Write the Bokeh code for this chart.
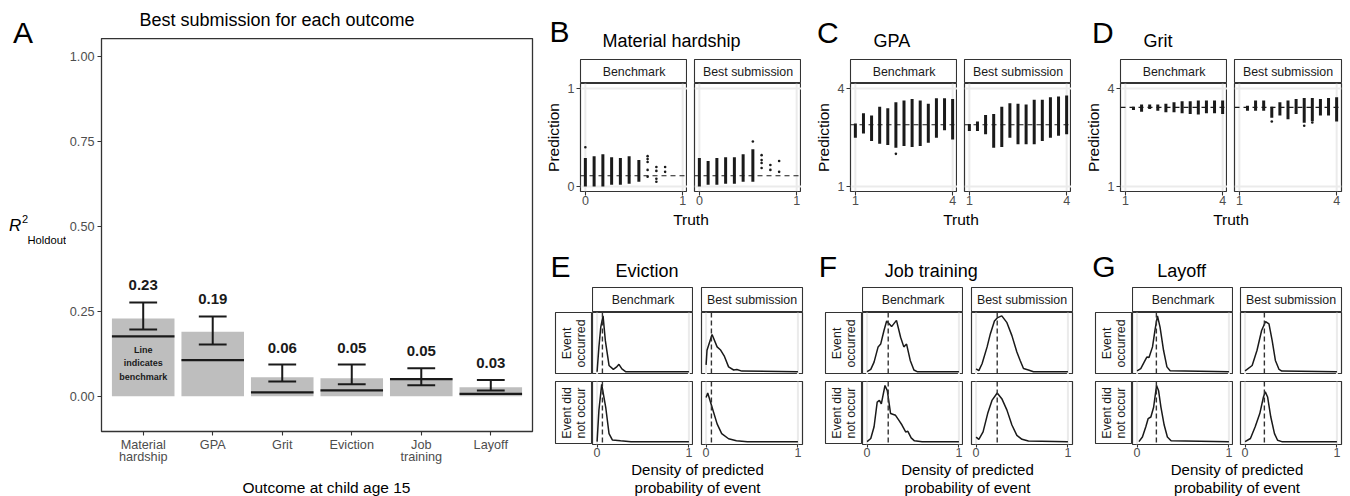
import math
from bokeh.plotting import figure
from bokeh.models import Range1d, FixedTicker, Span, Spacer, NumeralTickFormatter
from bokeh.layouts import row, column
from bokeh.core.properties import value
from bokeh.embed import file_html
from bokeh.resources import INLINE

FONT = "Liberation Sans"
DARK = "#333333"

# ---------------- Panel A data ----------------
outcomes = ["Material\nhardship", "GPA", "Grit", "Eviction", "Job\ntraining", "Layoff"]
best_r2 = [0.229, 0.190, 0.056, 0.053, 0.053, 0.026]
bench_r2 = [0.176, 0.106, 0.011, 0.017, 0.050, 0.007]
ci_lo = [0.196, 0.152, 0.043, 0.035, 0.032, 0.017]
ci_hi = [0.276, 0.235, 0.093, 0.093, 0.082, 0.048]
r2_labels = ["0.23", "0.19", "0.06", "0.05", "0.05", "0.03"]
a_yticks = [0.0, 0.25, 0.5, 0.75, 1.0]

# ---------------- Panel B (Material hardship) ----------------
mh_ticks = [0, 1]
mh_mean = 0.11
mhB_x = [0.0, 0.09, 0.18, 0.27, 0.36, 0.45, 0.55]
mhB_lo = [0.0, 0.0, 0.0, 0.02, 0.02, 0.03, 0.05]
mhB_hi = [0.29, 0.31, 0.33, 0.30, 0.29, 0.31, 0.27]
mhB_px = [0.0, 0.64, 0.64, 0.64, 0.64, 0.64, 0.73, 0.73, 0.73, 0.73, 0.82, 0.82]
mhB_py = [0.40, 0.31, 0.28, 0.25, 0.17, 0.10, 0.20, 0.16, 0.08, 0.05, 0.20, 0.15]
mhS_x = [0.0, 0.09, 0.18, 0.27, 0.36, 0.45, 0.55]
mhS_lo = [0.0, 0.02, 0.02, 0.03, 0.03, 0.05, 0.05]
mhS_hi = [0.29, 0.26, 0.29, 0.30, 0.30, 0.33, 0.38]
mhS_px = [0.55, 0.64, 0.64, 0.64, 0.64, 0.73, 0.73, 0.82, 0.82]
mhS_py = [0.46, 0.32, 0.27, 0.24, 0.19, 0.22, 0.17, 0.26, 0.15]

# ---------------- Panel C (GPA) ----------------
gpa_ticks = [1, 4]
gpa_mean = 2.89
gpa_truth = [1.0, 1.25, 1.5, 1.75, 2.0, 2.25, 2.5, 2.75, 3.0, 3.25, 3.5, 3.75, 4.0]
gpaB_lo = [2.49, 2.62, 2.39, 2.31, 2.27, 2.19, 2.24, 2.21, 2.24, 2.34, 2.49, 2.72, 2.44]
gpaB_hi = [2.93, 3.24, 3.17, 3.44, 3.39, 3.58, 3.63, 3.68, 3.63, 3.53, 3.70, 3.70, 3.68]
gpaB_px = [2.25]
gpaB_py = [2.00]
gpaS_lo = [2.70, 2.70, 2.60, 2.19, 2.21, 2.49, 2.29, 2.29, 2.29, 2.39, 2.49, 2.55, 2.60]
gpaS_hi = [2.91, 2.99, 3.19, 3.22, 3.44, 3.55, 3.53, 3.51, 3.65, 3.65, 3.73, 3.75, 3.78]
gpaS_px = []
gpaS_py = []

# ---------------- Panel D (Grit) ----------------
grit_ticks = [1, 4]
grit_mean = 3.42
grit_truth = [1.25, 1.5, 1.75, 2.0, 2.25, 2.5, 2.75, 3.0, 3.25, 3.5, 3.75, 4.0]
gritB_lo = [3.34, 3.29, 3.37, 3.32, 3.27, 3.27, 3.24, 3.22, 3.20, 3.24, 3.24, 3.22]
gritB_hi = [3.44, 3.51, 3.51, 3.51, 3.53, 3.58, 3.61, 3.61, 3.63, 3.63, 3.63, 3.63]
gritS_lo = [3.32, 3.32, 3.32, 3.10, 3.17, 3.06, 3.22, 2.95, 3.00, 3.17, 3.17, 2.99]
gritS_hi = [3.47, 3.63, 3.63, 3.44, 3.58, 3.63, 3.68, 3.71, 3.71, 3.68, 3.71, 3.73]
gritS_px = [2.0, 3.0, 3.25]
gritS_py = [2.99, 2.86, 2.96]

# ---------------- Density panels ----------------
evict_rate = 0.058
evB_occ_x = [0.0, 0.02, 0.04, 0.065, 0.09, 0.13, 0.177, 0.21, 0.238, 0.27, 0.31, 0.5, 1.0]
evB_occ_y = [0.0, 0.44, 0.79, 0.99, 0.55, 0.11, 0.04, 0.08, 0.13, 0.05, 0.0, 0.0, 0.0]
evS_occ_x = [0.0, 0.01, 0.065, 0.12, 0.155, 0.2, 0.245, 0.3, 0.335, 0.39, 1.0]
evS_occ_y = [0.12, 0.38, 0.66, 0.44, 0.39, 0.27, 0.085, 0.03, 0.04, 0.01, 0.0]
evB_not_x = [0.0, 0.02, 0.05, 0.094, 0.13, 0.166, 0.256, 0.37, 1.0]
evB_not_y = [0.0, 0.55, 1.0, 0.6, 0.14, 0.03, 0.015, 0.0, 0.0]
evS_not_x = [0.0, 0.018, 0.065, 0.12, 0.17, 0.245, 0.33, 0.45, 1.0]
evS_not_y = [0.77, 0.85, 0.6, 0.31, 0.14, 0.05, 0.015, 0.0, 0.0]

job_rate = 0.23
jbB_occ_x = [0.0, 0.04, 0.076, 0.12, 0.148, 0.184, 0.213, 0.267, 0.32, 0.365, 0.40, 0.43, 0.47, 0.51, 0.545, 1.0]
jbB_occ_y = [0.0, 0.04, 0.17, 0.44, 0.49, 0.73, 0.90, 0.80, 0.91, 0.61, 0.44, 0.49, 0.2, 0.03, 0.0, 0.0]
jbS_occ_x = [0.0, 0.03, 0.065, 0.12, 0.155, 0.2, 0.235, 0.28, 0.336, 0.39, 0.444, 0.48, 0.516, 0.57, 0.625, 1.0]
jbS_occ_y = [0.05, 0.02, 0.14, 0.44, 0.67, 0.9, 0.96, 0.99, 0.87, 0.64, 0.35, 0.2, 0.055, 0.03, 0.0, 0.0]
jbB_not_x = [0.0, 0.04, 0.076, 0.11, 0.134, 0.155, 0.195, 0.22, 0.256, 0.31, 0.347, 0.38, 0.42, 0.444, 0.48, 0.516, 0.6, 1.0]
jbB_not_y = [0.0, 0.055, 0.26, 0.69, 0.72, 0.66, 0.98, 0.89, 0.49, 0.46, 0.37, 0.29, 0.17, 0.18, 0.066, 0.014, 0.0, 0.0]
jbS_not_x = [0.0, 0.03, 0.076, 0.126, 0.173, 0.23, 0.28, 0.336, 0.39, 0.444, 0.5, 0.57, 1.0]
jbS_not_y = [0.08, 0.04, 0.17, 0.49, 0.72, 0.85, 0.75, 0.55, 0.29, 0.11, 0.04, 0.01, 0.0]

layoff_rate = 0.21
lyB_occ_x = [0.0, 0.04, 0.077, 0.106, 0.13, 0.168, 0.197, 0.222, 0.25, 0.288, 0.325, 0.36, 1.0]
lyB_occ_y = [0.015, 0.055, 0.17, 0.26, 0.25, 0.44, 0.76, 0.99, 0.79, 0.38, 0.085, 0.015, 0.0]
lyS_occ_x = [0.0, 0.077, 0.13, 0.18, 0.223, 0.26, 0.295, 0.33, 0.37, 0.4, 1.0]
lyS_occ_y = [0.015, 0.11, 0.38, 0.73, 0.89, 0.85, 0.55, 0.2, 0.04, 0.01, 0.0]
lyB_not_x = [0.02, 0.058, 0.095, 0.12, 0.15, 0.18, 0.212, 0.234, 0.26, 0.295, 0.33, 0.37, 1.0]
lyB_not_y = [0.0, 0.08, 0.26, 0.4, 0.43, 0.6, 0.98, 0.89, 0.6, 0.29, 0.08, 0.015, 0.0]
lyS_not_x = [0.0, 0.058, 0.11, 0.16, 0.2, 0.22, 0.245, 0.28, 0.32, 0.354, 0.4, 1.0]
lyS_not_y = [0.0, 0.055, 0.26, 0.49, 0.78, 0.87, 0.78, 0.43, 0.14, 0.025, 0.0, 0.0]

prob_ticks = [0, 1]
facet_names = ["Benchmark", "Best submission"]
row_names = ["Event\noccurred", "Event did\nnot occur"]


# ---------------- helpers ----------------
def base_fig(w, h, xr, yr, left=0, right=0, top=0, bottom=0, xloc=None, yloc=None):
    p = figure(width=w, height=h, x_range=Range1d(*xr), y_range=Range1d(*yr),
               min_border=0, min_border_left=left, min_border_right=right,
               min_border_top=top, min_border_bottom=bottom,
               x_axis_location=xloc, y_axis_location=yloc, title=None,
               toolbar_location=None, tools="", output_backend="svg")
    p.grid.visible = False
    p.background_fill_color = "white"
    p.border_fill_color = "white"
    return p


def style_axis(ax, ticks, standoff=0, tick_out=4, size="12.5px"):
    ax.ticker = FixedTicker(ticks=ticks)
    ax.axis_line_color = None
    ax.major_tick_line_color = DARK
    ax.major_tick_line_width = 1.1
    ax.major_tick_out = tick_out
    ax.major_tick_in = 0
    ax.minor_tick_line_color = None
    ax.major_label_text_font = FONT
    ax.major_label_text_font_size = size
    ax.major_label_text_color = "#4d4d4d"
    ax.major_label_standoff = standoff


def blank(w, h):
    # text-only canvas: data units equal pixels, y measured from the top
    p = base_fig(w, h, (0, w), (h, 0))
    p.outline_line_color = None
    return p


def put_text(p, x, y_base, txt, size_px, align="left", style="normal", color="black"):
    # y_base is the wanted alphabetic baseline; text is anchored at its middle
    p.text(x=[x], y=[y_base - 0.36 * size_px], text=[txt], text_font=value(FONT),
           text_font_size="%.1fpx" % size_px, text_align=align, text_baseline="middle",
           text_font_style=style, text_color=color)


def strip(left, fw, right, h, txt, vertical=False):
    p = base_fig(left + fw + right, h, (0, 1), (0, 1), left=left, right=right)
    p.outline_line_color = DARK
    p.outline_line_width = 1.1
    p.text(x=[0.5], y=[0.5], text=[txt], angle=(math.pi / 2 if vertical else 0),
           text_align="center", text_baseline="middle", text_font=value(FONT),
           text_font_size="12.4px", text_color="#1a1a1a", text_line_height=1.0)
    return p


# ---------------- Panel A ----------------
AX = (-0.6, 5.6)
AY = (-0.1039, 1.053)
figA = base_fig(479, 431, AX, AY, left=34, right=13, top=0, bottom=38, xloc="below", yloc="left")
figA.outline_line_color = DARK
figA.outline_line_width = 1.3
xi = list(range(len(outcomes)))
figA.vbar(x=xi, top=best_r2, bottom=0, width=0.9, fill_color="#bebebe", line_color=None)
figA.segment(x0=[i - 0.45 for i in xi], x1=[i + 0.45 for i in xi], y0=bench_r2, y1=bench_r2,
             line_color="#1a1a1a", line_width=2.2)
figA.segment(x0=xi, x1=xi, y0=ci_lo, y1=ci_hi, line_color="#1a1a1a", line_width=2)
figA.segment(x0=[i - 0.2 for i in xi], x1=[i + 0.2 for i in xi], y0=ci_lo, y1=ci_lo,
             line_color="#1a1a1a", line_width=2)
figA.segment(x0=[i - 0.2 for i in xi], x1=[i + 0.2 for i in xi], y0=ci_hi, y1=ci_hi,
             line_color="#1a1a1a", line_width=2)
figA.text(x=xi, y=[h + 0.05 for h in ci_hi], text=r2_labels, text_font=value(FONT),
          text_font_size="15px", text_font_style="bold", text_align="center",
          text_baseline="middle", text_color="#1a1a1a")
figA.text(x=[xi[0]], y=[bench_r2[0] / 2 + 0.009], text=["Line\nindicates\nbenchmark"],
          text_font=value(FONT), text_font_size="9px", text_font_style="bold",
          text_align="center", text_baseline="middle", text_line_height=1.36, text_color="#1a1a1a")
style_axis(figA.xaxis[0], xi, standoff=2, tick_out=4, size="12.7px")
figA.xaxis[0].major_label_overrides = {i: n for i, n in enumerate(outcomes)}
figA.xaxis[0].major_label_text_line_height = 0.9
style_axis(figA.yaxis[0], a_yticks, standoff=3, tick_out=4, size="12.7px")
figA.yaxis[0].formatter = NumeralTickFormatter(format="0.00")

a_left = blank(66, 496)
put_text(a_left, 12.5, 42.7, "A", 30)
put_text(a_left, 8.5, 231.5, "R", 17, style="italic")
put_text(a_left, 21.5, 222, "2", 11)
put_text(a_left, 27, 243.5, "Holdout", 11.2)
a_title = blank(479, 38)
put_text(a_title, 195, 26, "Best submission for each outcome", 18, align="center")
a_xt = blank(479, 27)
put_text(a_xt, 250, 23.5, "Outcome at child age 15", 15.5, align="center")
groupA = row(a_left, column(a_title, figA, a_xt))


# ---------------- scatter groups (B, C, D) ----------------
def scatter_panel(left, right, xr, yr, ticks, show_y, cx, lo, hi, px, py, mean):
    p = base_fig(left + 107 + right, 128, xr, yr, left=left, right=right, bottom=20,
                 xloc="below", yloc=("left" if show_y else None))
    p.outline_line_color = DARK
    p.outline_line_width = 1.2
    for t in ticks:
        p.add_layout(Span(location=t, dimension="height", line_color="#ebebeb", line_width=2, level="underlay"))
        p.add_layout(Span(location=t, dimension="width", line_color="#ebebeb", line_width=2, level="underlay"))
    p.segment(x0=cx, x1=cx, y0=lo, y1=hi, line_color="#1a1a1a", line_width=3)
    if px:
        p.scatter(x=px, y=py, size=2.6, fill_color="#1a1a1a", line_color=None)
    p.add_layout(Span(location=mean, dimension="width", line_color="#1a1a1a", line_width=1.1, line_dash="5 4"))
    style_axis(p.xaxis[0], ticks, standoff=0, tick_out=4)
    if show_y:
        style_axis(p.yaxis[0], ticks, standoff=2, tick_out=4)
    return p


def scatter_group(letter, title, letter_x, letter_y, title_x, title_y, pred_w, right2, xr, yr, ticks,
                  cxB, loB, hiB, pxB, pyB, cxS, loS, hiS, pxS, pyS, mean):
    w1 = 19 + 107
    w2 = 7 + 107 + right2
    total = pred_w + w1 + w2
    tf = blank(total, 59)
    put_text(tf, letter_x, letter_y, letter, 30)
    put_text(tf, title_x, title_y, title, 18)
    pc = blank(pred_w, 108)
    pc.text(x=[pred_w - 8], y=[54], text=["Prediction"], angle=math.pi / 2, text_font=value(FONT),
            text_font_size="15.5px", text_align="center", text_baseline="middle", text_color="black")
    pred_col = column(Spacer(width=pred_w, height=24), pc, Spacer(width=pred_w, height=20))
    s1 = strip(19, 107, 0, 24, facet_names[0])
    s2 = strip(7, 107, right2, 24, facet_names[1])
    p1 = scatter_panel(19, 0, xr, yr, ticks, True, cxB, loB, hiB, pxB, pyB, mean)
    p2 = scatter_panel(7, right2, xr, yr, ticks, False, cxS, loS, hiS, pxS, pyS, mean)
    xf = blank(total, 39)
    put_text(xf, (pred_w + 19 + total - right2) / 2, 13.5, "Truth", 15.5, align="center")
    return column(tf, row(pred_col, column(s1, p1), column(s2, p2)), xf)


gB = scatter_group("B", "Material hardship", 4, 41.7, 57, 47.3, 16, 0, (-0.05, 1.05), (-0.05, 1.05),
                   mh_ticks, mhB_x, mhB_lo, mhB_hi, mhB_px, mhB_py,
                   mhS_x, mhS_lo, mhS_hi, mhS_px, mhS_py, mh_mean)
gC = scatter_group("C", "GPA", 15.5, 42.5, 72, 46.7, 30, 0, (0.85, 4.15), (0.85, 4.15), gpa_ticks,
                   gpa_truth, gpaB_lo, gpaB_hi, gpaB_px, gpaB_py, gpa_truth, gpaS_lo, gpaS_hi,
                   gpaS_px, gpaS_py, gpa_mean)
gD = scatter_group("D", "Grit", 20.5, 42.5, 72, 46.7, 30, 9, (0.85, 4.15), (0.85, 4.15), grit_ticks,
                   grit_truth, gritB_lo, gritB_hi, [], [], grit_truth, gritS_lo, gritS_hi,
                   gritS_px, gritS_py, grit_mean)


# ---------------- density groups (E, F, G) ----------------
def dens_panel(left, right, fh, bottom, xs, ys, rate, show_x):
    p = base_fig(left + 101 + right, fh + bottom, (-0.05, 1.05), (-0.05, 1.05), left=left,
                 right=right, bottom=bottom, xloc=("below" if show_x else None), yloc=None)
    p.outline_line_color = DARK
    p.outline_line_width = 1.2
    for t in prob_ticks:
        p.add_layout(Span(location=t, dimension="height", line_color="#ebebeb", line_width=2, level="underlay"))
    p.line(x=xs, y=ys, line_color="#1a1a1a", line_width=1.5)
    p.add_layout(Span(location=rate, dimension="height", line_color=DARK, line_width=1.4, line_dash="5 3"))
    if show_x:
        style_axis(p.xaxis[0], prob_ticks, standoff=0, tick_out=3)
    return p


def dens_group(letter, title, letter_x, title_x, right2, gap2, curves, rate):
    (b_occ_x, b_occ_y, s_occ_x, s_occ_y, b_not_x, b_not_y, s_not_x, s_not_y) = curves
    w2 = gap2 + 101 + right2
    total = 47 + 101 + w2
    tf = blank(total, 37)
    put_text(tf, letter_x, 26.7, letter, 30)
    put_text(tf, title_x, 26.7, title, 18)
    left_col = column(Spacer(width=47, height=25), strip(10, 37, 0, 62, row_names[0], vertical=True),
                      Spacer(width=47, height=7), strip(10, 37, 0, 63, row_names[1], vertical=True),
                      Spacer(width=47, height=18))
    c1 = column(strip(0, 101, 0, 25, facet_names[0]),
                dens_panel(0, 0, 62, 0, b_occ_x, b_occ_y, rate, False),
                Spacer(width=101, height=7),
                dens_panel(0, 0, 63, 18, b_not_x, b_not_y, rate, True))
    c2 = column(strip(gap2, 101, right2, 25, facet_names[1]),
                dens_panel(gap2, right2, 62, 0, s_occ_x, s_occ_y, rate, False),
                Spacer(width=w2, height=7),
                dens_panel(gap2, right2, 63, 18, s_not_x, s_not_y, rate, True))
    xf = blank(total, 34)
    cx = (47 + total - right2) / 2
    put_text(xf, cx, 12.5, "Density of predicted", 15, align="center")
    put_text(xf, cx, 30.5, "probability of event", 15, align="center")
    return column(tf, row(left_col, c1, c2), xf)


gE = dens_group("E", "Eviction", 5, 70, 13, 8,
                (evB_occ_x, evB_occ_y, evS_occ_x, evS_occ_y, evB_not_x, evB_not_y, evS_not_x, evS_not_y),
                evict_rate)
gF = dens_group("F", "Job training", 3.3, 69.3, 13, 8,
                (jbB_occ_x, jbB_occ_y, jbS_occ_x, jbS_occ_y, jbB_not_x, jbB_not_y, jbS_not_x, jbS_not_y),
                job_rate)
gG = dens_group("G", "Layoff", 6.7, 71.7, 9, 7,
                (lyB_occ_x, lyB_occ_y, lyS_occ_x, lyS_occ_y, lyB_not_x, lyB_not_y, lyS_not_x, lyS_not_y),
                layoff_rate)

right_col = column(row(gB, gC, gD), row(gE, gF, gG))
layout = row(groupA, right_col)

open("out.html", "w").write(file_html(layout, INLINE))
